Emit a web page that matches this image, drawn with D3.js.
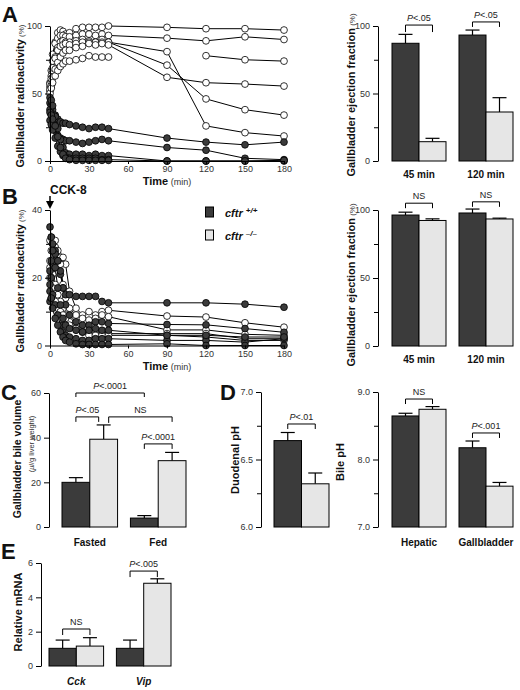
<!DOCTYPE html>
<html><head><meta charset="utf-8">
<script src="https://cdn.jsdelivr.net/npm/d3@7"></script>
<style>
body{margin:0;background:#fff}
svg{display:block}
text{font-family:"Liberation Sans",Arial,Helvetica,sans-serif}
</style>
</head><body>
<svg id="c" width="520" height="690"></svg>
<script>
// ---------------- DATA ----------------
const genotypes = ["wt", "ko"];
const legendLabels = [["cftr", "+/+"], ["cftr", "\u2013/\u2013"]];
const times = [0,1,2,4,6,8,10,12,15,20,25,30,35,40,45,90,120,150,180];
const timeTicks = [0,30,60,90,120,150,180];

// Panel A: gallbladder radioactivity (%)
const aKO1 = [55,63,74,88,95,97,96,94,95,98,99,99,99,99,100,99,98,98,97];
const aKO2 = [58,67,79,87,91,93,93,92,92,93,94,94,93,94,93,91,89,92,90];
const aKO3 = [52,58,67,77,84,88,89,88,88,89,90,89,88,90,88,81,26,21,18.5];
const aKO4 = [57,61,69,76,82,85,86,87,86,87,88,88,88,88,88,71,46,38,34];
const aKO5 = [53,56,62,68,73,77,80,82,82,84,85,87,86,87,86,62,58,57,55.5];
const aKO6 = [50,54,58,63,67,70,72,74,74,75,76,78,77,77,77,null,78,75,74];
const aWT1 = [43,41,38,34,31,29,28,28,27,26,25,24,25,25,24,17,14,12,14];
const aWT2 = [38,34,29,23,19,17,16,15,15,14,13,14,15,16,15,10,8,2,1];
const aWT3 = [47,45,41,33,24,16,10,6,5,5,5,4,5,4,4,0,0,0,0];
const aWT4 = [30,27,23,17,11,7,4,3,2,2,2,2,2,1,1,0,0,0,0.5];
const aWT5 = [36,34,31,26,18,10,5,2,1,0.5,0.5,0.5,0.5,0.5,0.5,null,null,null,null];

// Panel B: gallbladder radioactivity (%) after CCK-8
const bWT1 = [35,32,30,28,25,21,17,15,15,14.5,14.5,14.5,14.5,13,12.6,12.6,12.6,12.2,11.3];
const bWT2 = [16,20,24,27,25,22,17,12,9,7,6,6,7,7,6.5,6.2,6.1,5,3.9];
const bWT3 = [13,14,15,12,9,6,4,3,2.5,2,1.5,1.5,2,2,2,1.5,1.5,1,2];
const bWT4 = [18,14,11,8,6,4,2.5,1.5,1,0.5,0.3,0.3,0.3,0.3,0.3,0.5,0,0,0];
const bWT5 = [22,25,28,23,17,12,8,6,5,4.5,4,4.5,5,4.5,4.5,3,3,2.5,2.5];
const bKO1 = [31,32,31,29,27,26,26,24,16,11,9,10,9,10,10.4,8.7,8.4,6.7,5.4];
const bKO2 = [25,28,30,31,28,24,18,14,11,9,8,7.5,8,9,8.5,4.6,4.6,3.3,3];
const bKO3 = [20,22,21,18,15,13,11,9,7,5,4,3.5,4,4,3.5,3.5,3.5,2,2];
const bKO4 = [23,20,17,13,11,10,9,8,6,5,4,3,3,3,3,3,2.5,1.5,1.5];

// Ejection fraction bars
const efCats = ["45 min", "120 min"];
const efA_wt = [87.2, 93.3], efA_wtErr = [6.6, 3.7];
const efA_ko = [14.3, 36.3], efA_koErr = [2.5, 10.6];
const efB_wt = [96.3, 97.8], efB_wtErr = [2.1, 2.9];
const efB_ko = [92.3, 93.4], efB_koErr = [1.2, 0.6];

// Panel C
const cCats = ["Fasted", "Fed"];
const c_wt = [20.0, 4.0], c_wtErr = [2.1, 1.1];
const c_ko = [39.3, 29.7], c_koErr = [6.4, 3.7];

// Panel D
const dDuoCats = [""];
const dDuo_wt = [6.64], dDuo_wtErr = [0.06];
const dDuo_ko = [6.32], dDuo_koErr = [0.08];
const dBileCats = ["Hepatic", "Gallbladder"];
const dBile_wt = [8.645, 8.174], dBile_wtErr = [0.04, 0.1];
const dBile_ko = [8.744, 7.605], dBile_koErr = [0.04, 0.055];

// Panel E
const eCats = ["Cck", "Vip"];
const e_wt = [1.03, 1.03], e_wtErr = [0.48, 0.48];
const e_ko = [1.16, 4.82], e_koErr = [0.49, 0.26];

// ---------------- DRAWING ----------------
const DARK = "#3b3b3b", LIGHT = "#e6e6e6";
const svg = d3.select("#c");

function yAxis(x, scale, major, minor, fmt) {
  const g = svg.append("g").attr("transform", `translate(${x},0)`);
  g.call(d3.axisLeft(scale).tickValues(major).tickSize(5).tickSizeOuter(0).tickPadding(3).tickFormat(fmt));
  if (minor && minor.length) {
    const m = svg.append("g").attr("transform", `translate(${x},0)`);
    m.call(d3.axisLeft(scale).tickValues(minor).tickSize(4).tickSizeOuter(0).tickFormat(""));
    m.select(".domain").remove();
    m.selectAll("line").attr("stroke", "#000");
  }
  g.select(".domain").attr("stroke", "#000");
  g.selectAll("line").attr("stroke", "#000");
  g.selectAll("text").attr("font-size", 9).attr("fill", "#333").attr("font-family", null);
  return g;
}

function yTitle(x, cy, main, unit, size) {
  const t = svg.append("text").attr("transform", `translate(${x},${cy}) rotate(-90)`)
    .attr("text-anchor", "middle");
  t.append("tspan").attr("font-weight", "bold").attr("font-size", size || 11).attr("fill", "#111").text(main);
  if (unit) t.append("tspan").attr("font-size", 8).attr("fill", "#333").text(" " + unit);
}

function panelLetter(x, y, L) {
  svg.append("text").attr("x", x).attr("y", y).attr("font-size", 22).attr("font-weight", "bold").attr("fill", "#111").text(L);
}

function timeTitle(cx, y) {
  const t = svg.append("text").attr("x", cx).attr("y", y).attr("text-anchor", "middle");
  t.append("tspan").attr("font-weight", "bold").attr("font-size", 11).attr("fill", "#111").text("Time");
  t.append("tspan").attr("font-size", 9).attr("fill", "#333").text(" (min)");
}

function lineChart(xS, yS, wtSeries, koSeries, yMajor, yMinor) {
  const line = d3.line().defined(d => d[1] != null).x(d => xS(d[0])).y(d => yS(d[1]));
  const all = [...koSeries.map(s => ({s, g: "ko"})), ...wtSeries.map(s => ({s, g: "wt"}))];
  const gL = svg.append("g");
  all.forEach(({s}) => {
    const pts = times.map((t, i) => [t, s[i]]);
    gL.append("path").attr("d", line(pts)).attr("fill", "none").attr("stroke", "#000").attr("stroke-width", 1);
  });
  const gC = svg.append("g");
  all.forEach(({s, g}) => {
    const pts = times.map((t, i) => [t, s[i]]).filter(d => d[1] != null);
    gC.selectAll(null).data(pts).enter().append("circle")
      .attr("cx", d => xS(d[0])).attr("cy", d => yS(d[1])).attr("r", 3.4)
      .attr("fill", g === "wt" ? DARK : "#fff").attr("stroke", "#000").attr("stroke-width", 0.8);
  });
  // axes
  const y0 = yS.range()[0];
  const gx = svg.append("g").attr("transform", `translate(0,${y0})`)
    .call(d3.axisBottom(xS).tickValues(timeTicks).tickSize(3).tickSizeOuter(0).tickPadding(2));
  gx.select(".domain").attr("stroke", "#000");
  gx.selectAll("line").attr("stroke", "#000");
  gx.selectAll("text").attr("font-size", 9).attr("fill", "#333").attr("font-family", null);
  yAxis(xS.range()[0], yS, yMajor, yMinor, d3.format("d"));
}

function pLabel(x, y, lab) {
  const t = svg.append("text").attr("x", x).attr("y", y).attr("text-anchor", "middle").attr("font-size", 9).attr("fill", "#222");
  if (lab[0]) t.append("tspan").attr("font-style", "italic").text(lab[0]);
  t.append("tspan").text(lab[1]);
}

function barChart(o) {
  const xB = d3.scaleBand(o.cats, o.range).paddingInner(o.pad);
  const sub = d3.scaleBand(genotypes, [0, xB.bandwidth()]);
  const base = o.y.domain()[0];
  const vals = {wt: o.wt, ko: o.ko}, errs = {wt: o.wtErr, ko: o.koErr};
  const cx = (ci, gk) => xB(o.cats[ci]) + sub(gk) + sub.bandwidth() / 2;
  const g = svg.append("g");
  o.cats.forEach((c, ci) => {
    genotypes.forEach(gk => {
      const v = vals[gk][ci], e = errs[gk][ci];
      const x = xB(c) + sub(gk), w = sub.bandwidth();
      const xc = x + w / 2;
      g.append("line").attr("x1", xc).attr("x2", xc).attr("y1", o.y(v)).attr("y2", o.y(v + e))
        .attr("stroke", "#000").attr("stroke-width", 1.2);
      g.append("line").attr("x1", xc - 7).attr("x2", xc + 7).attr("y1", o.y(v + e)).attr("y2", o.y(v + e))
        .attr("stroke", "#000").attr("stroke-width", 1.2);
      g.append("rect").attr("x", x).attr("y", o.y(v)).attr("width", w).attr("height", o.y(base) - o.y(v))
        .attr("fill", gk === "wt" ? DARK : LIGHT).attr("stroke", "#000").attr("stroke-width", 1);
    });
    if (c) {
      const t = svg.append("text").attr("x", xB(c) + xB.bandwidth() / 2).attr("y", o.labelY)
        .attr("text-anchor", "middle").attr("font-size", 10).attr("font-weight", "bold").attr("fill", "#111").text(c);
      if (o.italic) t.attr("font-style", "italic");
    }
  });
  (o.brackets || []).forEach(b => {
    const x1 = cx(b.c1, b.g1) + (b.o1 || 0), x2 = cx(b.c2, b.g2) + (b.o2 || 0);
    const yt = o.y(b.y);
    svg.append("path").attr("d", `M${x1},${yt + b.leg1}V${yt}H${x2}V${yt + b.leg2}`)
      .attr("fill", "none").attr("stroke", "#000").attr("stroke-width", 1);
    pLabel((x1 + x2) / 2, yt - 4, b.lab);
  });
  yAxis(o.axisX, o.y, o.major, o.minor, o.fmt);
}

// ----- Panel A -----
const xLine = d3.scaleLinear([0, 180], [50, 284]);
const yA = d3.scaleLinear([0, 100], [161, 26]);
lineChart(xLine, yA, [aWT1, aWT2, aWT3, aWT4, aWT5], [aKO1, aKO2, aKO3, aKO4, aKO5, aKO6], [0, 50, 100], [25, 75]);
panelLetter(2, 22, "A");
yTitle(24, 96, "Gallbladder radioactivity", "(%)");
timeTitle(167, 185);

barChart({cats: efCats, range: [392, 513], pad: 0.194, y: yA, wt: efA_wt, wtErr: efA_wtErr, ko: efA_ko, koErr: efA_koErr,
  labelY: 178, axisX: 378, major: [0, 50, 100], minor: [25, 75], fmt: d3.format("d"),
  brackets: [
    {c1: 0, g1: "wt", c2: 0, g2: "ko", y: 100.7, leg1: 7, leg2: 7, lab: ["P", "<.05"]},
    {c1: 1, g1: "wt", c2: 1, g2: "ko", y: 103, leg1: 5, leg2: 5, lab: ["P", "<.05"]}
  ]});
yTitle(355, 95, "Gallbladder ejection fraction", "(%)");

// ----- Panel B -----
const yB = d3.scaleLinear([0, 40], [345.5, 210]);
lineChart(xLine, yB, [bWT1, bWT2, bWT3, bWT4, bWT5], [bKO1, bKO2, bKO3, bKO4], [0, 20, 40], [10, 30]);
panelLetter(2, 204, "B");
yTitle(24, 281, "Gallbladder radioactivity", "(%)");
timeTitle(167, 370);
svg.append("text").attr("x", 50).attr("y", 194).attr("font-size", 12).attr("font-weight", "bold").attr("fill", "#111").text("CCK-8");
svg.append("line").attr("x1", xLine(0)).attr("x2", xLine(0)).attr("y1", 196).attr("y2", 203).attr("stroke", "#000").attr("stroke-width", 1.5);
svg.append("path").attr("d", `M${xLine(0) - 4},201L${xLine(0) + 4},201L${xLine(0)},209Z`).attr("fill", "#000");

// legend
legendLabels.forEach((lab, i) => {
  const y = 207 + i * 23;
  svg.append("rect").attr("x", 205.5).attr("y", y).attr("width", 8).attr("height", 10)
    .attr("fill", genotypes[i] === "wt" ? DARK : LIGHT).attr("stroke", "#000").attr("stroke-width", 1);
  const t = svg.append("text").attr("x", 225).attr("y", y + 9.5).attr("font-size", 11).attr("font-weight", "bold")
    .attr("font-style", "italic").attr("fill", "#111");
  t.append("tspan").text(lab[0]);
  t.append("tspan").attr("dx", 3).attr("dy", -4).attr("font-size", 8).text(lab[1]);
});

const yBb = d3.scaleLinear([0, 100], [346, 210]);
barChart({cats: efCats, range: [392, 513], pad: 0.194, y: yBb, wt: efB_wt, wtErr: efB_wtErr, ko: efB_ko, koErr: efB_koErr,
  labelY: 363, axisX: 378, major: [0, 50, 100], minor: [25, 75], fmt: d3.format("d"),
  brackets: [
    {c1: 0, g1: "wt", c2: 0, g2: "ko", y: 105, leg1: 5, leg2: 5, lab: ["", "NS"]},
    {c1: 1, g1: "wt", c2: 1, g2: "ko", y: 106, leg1: 5, leg2: 5, lab: ["", "NS"]}
  ]});
yTitle(355, 285, "Gallbladder ejection fraction", "(%)");

// ----- Panel C -----
const yC = d3.scaleLinear([0, 60], [527, 393]);
barChart({cats: cCats, range: [62, 186], pad: 0.188, y: yC, wt: c_wt, wtErr: c_wtErr, ko: c_ko, koErr: c_koErr,
  labelY: 546, axisX: 49, major: [0, 20, 40, 60], minor: [], fmt: d3.format("d"),
  brackets: [
    {c1: 0, g1: "wt", c2: 1, g2: "wt", y: 60, leg1: 4, leg2: 4, lab: ["P", "<.0001"]},
    {c1: 0, g1: "wt", c2: 0, g2: "ko", o2: -5, y: 49.3, leg1: 5, leg2: 5, lab: ["P", "<.05"]},
    {c1: 0, g1: "ko", o1: 5, c2: 1, g2: "ko", y: 49.3, leg1: 6, leg2: 5, lab: ["", "NS"]},
    {c1: 1, g1: "wt", c2: 1, g2: "ko", y: 37.2, leg1: 5, leg2: 5, lab: ["P", "<.0001"]}
  ]});
panelLetter(1, 400, "C");
yTitle(21, 459, "Gallbladder bile volume", null, 10.5);
svg.append("text").attr("transform", "translate(34,444) rotate(-90)").attr("text-anchor", "middle")
  .attr("font-size", 7.5).attr("fill", "#333").html("(<tspan font-style='italic'>\u03bcl</tspan>/g liver weight)");

// ----- Panel D -----
const yD = d3.scaleLinear([6, 7], [527, 392]);
barChart({cats: dDuoCats, range: [274, 329], pad: 0, y: yD, wt: dDuo_wt, wtErr: dDuo_wtErr, ko: dDuo_ko, koErr: dDuo_koErr,
  labelY: 546, axisX: 261, major: [6, 6.5, 7], minor: [6.25, 6.75], fmt: d3.format(".1f"),
  brackets: [
    {c1: 0, g1: "wt", c2: 0, g2: "ko", y: 6.763, leg1: 5, leg2: 5, lab: ["P", "<.01"]}
  ]});
panelLetter(220, 400, "D");
yTitle(239, 460, "Duodenal pH");

const yBile = d3.scaleLinear([7, 9], [527, 392]);
barChart({cats: dBileCats, range: [392, 513], pad: 0.194, y: yBile, wt: dBile_wt, wtErr: dBile_wtErr, ko: dBile_ko, koErr: dBile_koErr,
  labelY: 546, axisX: 378, major: [7, 8, 9], minor: [7.5, 8.5], fmt: d3.format(".1f"),
  brackets: [
    {c1: 0, g1: "wt", c2: 0, g2: "ko", y: 8.896, leg1: 5, leg2: 5, lab: ["", "NS"]},
    {c1: 1, g1: "wt", c2: 1, g2: "ko", y: 8.393, leg1: 5, leg2: 5, lab: ["P", "<.001"]}
  ]});
yTitle(344, 462, "Bile pH");

// ----- Panel E -----
const yE = d3.scaleLinear([0, 6], [666, 563]);
barChart({cats: eCats, range: [49, 171], pad: 0.19, y: yE, wt: e_wt, wtErr: e_wtErr, ko: e_ko, koErr: e_koErr,
  labelY: 685, italic: true, axisX: 41, major: [0, 2, 4, 6], minor: [], fmt: d3.format("d"),
  brackets: [
    {c1: 0, g1: "wt", c2: 0, g2: "ko", y: 2.155, leg1: 6, leg2: 6, lab: ["", "NS"]},
    {c1: 1, g1: "wt", c2: 1, g2: "ko", y: 5.53, leg1: 6, leg2: 6, lab: ["P", "<.005"]}
  ]});
panelLetter(1, 559, "E");
yTitle(22, 612, "Relative mRNA");
</script>
</body></html>
